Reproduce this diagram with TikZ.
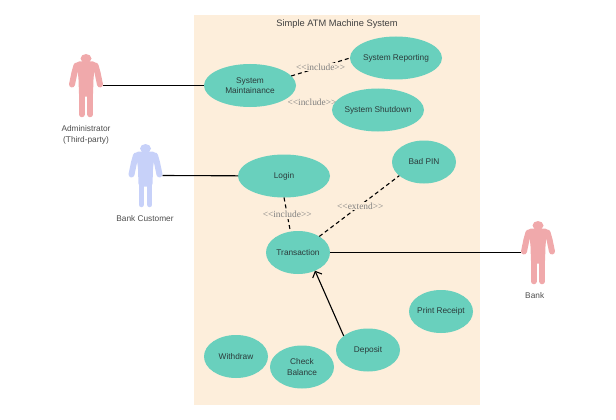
\documentclass[tikz,border=0pt]{standalone}
\usepackage{fontspec}
\setmainfont{Liberation Sans}
\newfontfamily\stereofont{Liberation Serif}
\usetikzlibrary{shapes.geometric,arrows.meta,backgrounds}
\definecolor{sheet}{HTML}{FDEEDB}
\definecolor{usecasefill}{HTML}{69D0BD}
\definecolor{actorpink}{HTML}{F0A9AB}
\definecolor{actorblue}{HTML}{C7D1F9}
\definecolor{inktext}{HTML}{2B3A3A}
\tikzset{
  usecase/.style={ellipse,fill=usecasefill,inner sep=0pt,outer sep=0pt,minimum width=92pt,minimum height=43pt},
  smallcase/.style={usecase,minimum width=64pt},
  casetext/.style={align=center,text=inktext,inner sep=0pt,font=\fontsize{8.3}{10.6}\selectfont},
  actorbox/.style={inner sep=0pt,outer sep=0pt,minimum width=34pt,minimum height=63pt},
  actorlabel/.style={align=center,text=black!70,font=\fontsize{8.3}{10.8}\selectfont},
  stereo/.style={fill=sheet,inner sep=1pt,text=black!50,font=\stereofont\fontsize{9.4}{11}\selectfont},
  link/.style={line width=1.1pt,black},
  dep/.style={line width=1.1pt,black,dash pattern=on 4pt off 3pt},
}
% name, position, colour
\newcommand{\umlactor}[3]{
  \node (#1) [actorbox] at (#2) {};
  \begin{scope}[shift={(#2)},#3]
    \fill (0,-27) ellipse (5.5 and 4.5);
    \fill[rounded corners=3pt] (-10,-24) -- (10,-24) -- (7.5,-8) -- (7,11) -- (-7,11) -- (-7.5,-8) -- cycle;
    \draw[line width=6pt,line cap=round,line join=round] (-9.5,-20) -- (-11.5,-13) -- (-14,-1);
    \draw[line width=6pt,line cap=round,line join=round] (9.5,-20) -- (11.5,-13) -- (14,-1);
    \draw[line width=5.5pt,line cap=round] (-4.2,8) -- (-4.2,29);
    \draw[line width=5.5pt,line cap=round] (4.2,8) -- (4.2,29);
  \end{scope}
}
\begin{document}
\begin{tikzpicture}[x=1pt,y=-1pt]
  \useasboundingbox (0,0) rectangle (616,420);
  \begin{scope}[on background layer]
    \fill[sheet] (194,15) rectangle (480,405);
  \end{scope}
  \node (title) [text=black!75,font=\fontsize{9.3}{12}\selectfont] at (337,24.3) {Simple ATM Machine System};

  \node (sysmaint) [usecase,label={[casetext]center:System\\Maintainance}] at (250,85.5) {};
  \node (sysreport) [usecase,label={[casetext]center:System Reporting}] at (396,58) {};
  \node (sysshut) [usecase,label={[casetext]center:System Shutdown}] at (378,110) {};
  \node (login) [usecase,label={[casetext]center:Login}] at (284,176) {};
  \node (badpin) [smallcase,label={[casetext]center:Bad PIN}] at (424,162) {};
  \node (transaction) [smallcase,label={[casetext]center:Transaction}] at (298,252.5) {};
  \node (receipt) [smallcase,label={[casetext]center:Print Receipt}] at (441,311.5) {};
  \node (withdraw) [smallcase,label={[casetext]center:Withdraw}] at (236,356.5) {};
  \node (balance) [smallcase,label={[casetext]center:Check\\Balance}] at (302,367) {};
  \node (deposit) [smallcase,label={[casetext]center:Deposit}] at (368,350) {};

  \umlactor{admin}{86,85.5}{actorpink}
  \umlactor{customer}{145.5,175.5}{actorblue}
  \umlactor{bank}{538,252.5}{actorpink}
  \node (adminlabel) [actorlabel] at (86,134.5) {Administrator\\(Third-party)};
  \node (customerlabel) [actorlabel] at (145,218.7) {Bank Customer};
  \node (banklabel) [actorlabel] at (534.7,296) {Bank};

  \draw [link] (admin.east) -- (sysmaint);
  \draw [link] (customer.east) -- (login);
  \draw [link] (transaction) -- (bank.west);
  \draw [link,-{Straight Barb[length=5pt,width=10pt]}] (deposit.150) -- (transaction.-47);

  \draw [dep] (sysmaint.13) -- (sysreport.west) node [midway,stereo] {<<include>>};
  \begin{scope}[on background layer]
    \draw [dep] (sysmaint.-18) -- (sysshut.170) node [stereo,minimum height=13pt] at (312,102.7) {<<include>>};
  \end{scope}
  \draw [dep] (login.south) -- (transaction.110) node [midway,stereo] {<<include>>};
  \draw [dep] (transaction.37) -- (badpin.209) node [midway,stereo,xshift=1pt] {<<extend>>};
\end{tikzpicture}
\end{document}
